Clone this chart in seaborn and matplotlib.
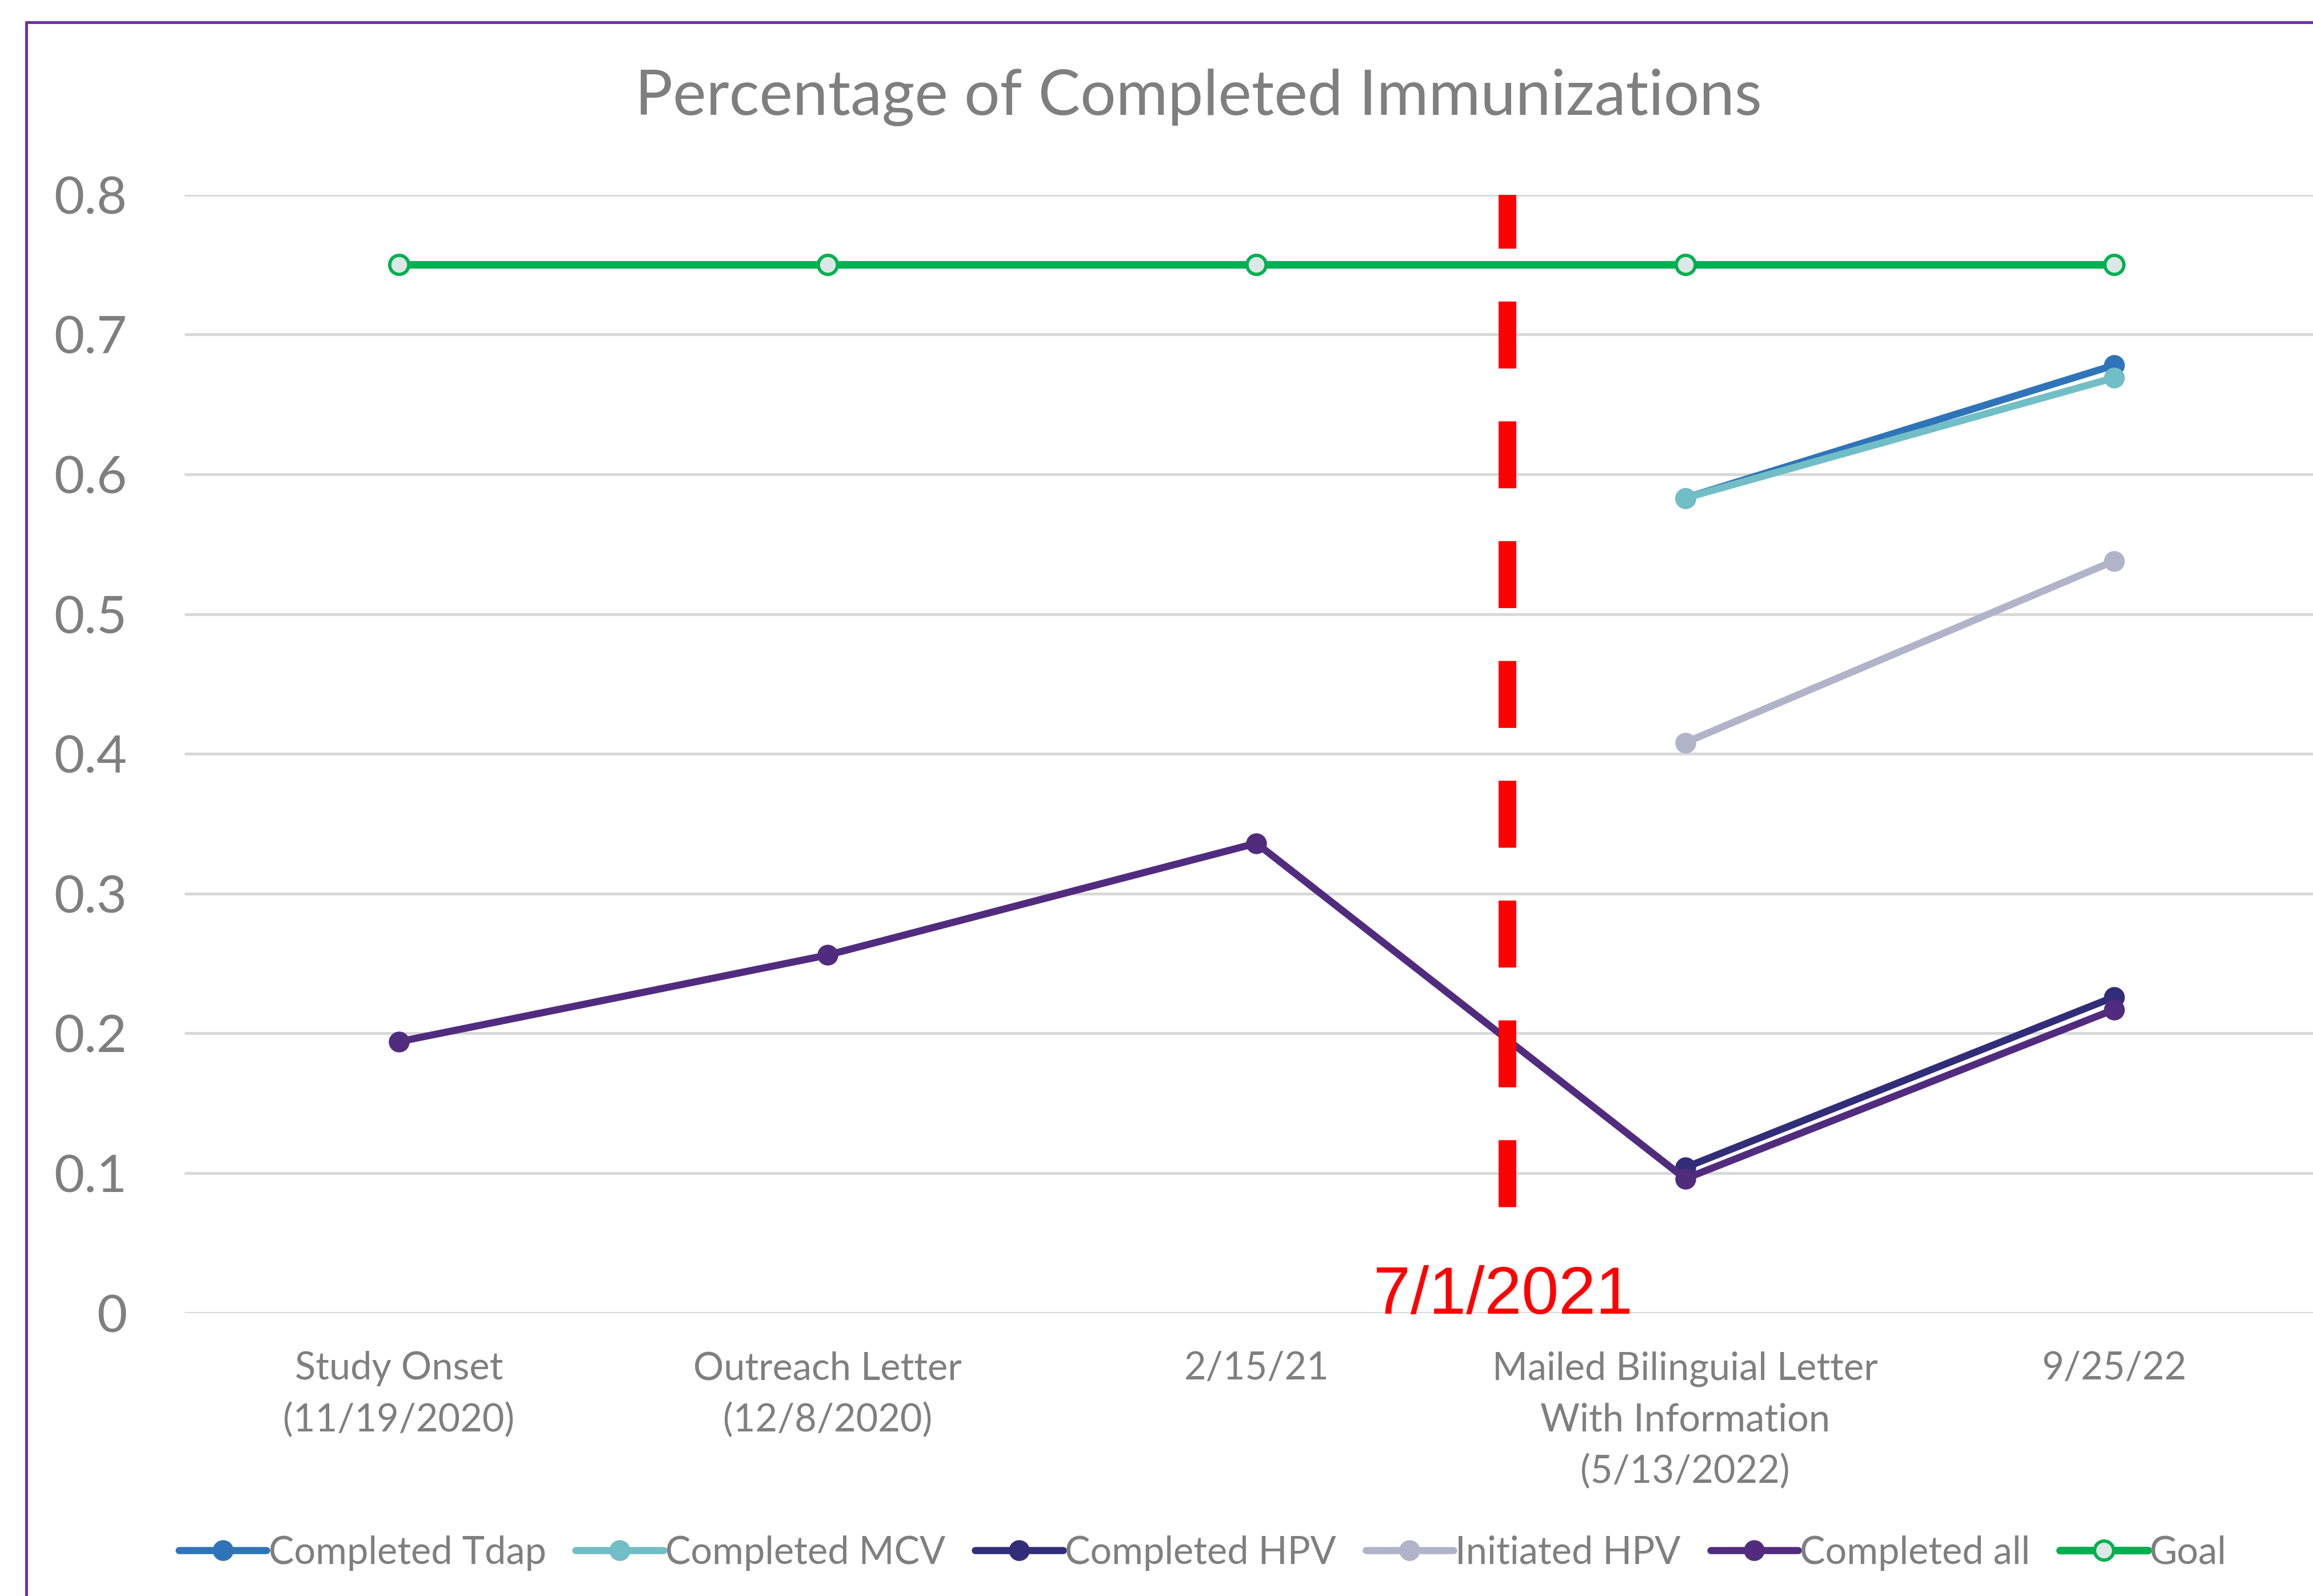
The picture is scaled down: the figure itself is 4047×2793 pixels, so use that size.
import numpy as np
import pandas as pd
import matplotlib
matplotlib.use("Agg")
import matplotlib.pyplot as plt
import seaborn as sns
from matplotlib.lines import Line2D

# Data
categories = ["Study Onset\n(11/19/2020)", "Outreach Letter\n(12/8/2020)", "2/15/21",
              "Mailed Bilinguial Letter\nWith Information\n(5/13/2022)", "9/25/22"]
completed_tdap = [np.nan, np.nan, np.nan, 0.583, 0.678]
completed_mcv = [np.nan, np.nan, np.nan, 0.583, 0.669]
completed_hpv = [np.nan, np.nan, np.nan, 0.104, 0.226]
initiated_hpv = [np.nan, np.nan, np.nan, 0.408, 0.538]
completed_all = [0.194, 0.256, 0.336, 0.096, 0.217]
goal = [0.75, 0.75, 0.75, 0.75, 0.75]
y_ticks = [0, 0.1, 0.2, 0.3, 0.4, 0.5, 0.6, 0.7, 0.8]
marker_date = "7/1/2021"
marker_pos = 2.585

series = [
    ("Completed Tdap", completed_tdap, "#2f74b8"),
    ("Completed MCV", completed_mcv, "#72bec6"),
    ("Completed HPV", completed_hpv, "#322d78"),
    ("Initiated HPV", initiated_hpv, "#b1b4c8"),
    ("Completed all", completed_all, "#512c7e"),
]

sns.set_style("white")
plt.rcParams['font.family'] = ['Lato', 'DejaVu Sans']
gray = "#7f7f7f"

fig = plt.figure(figsize=(4047 / 300, 2793 / 300), dpi=300)
ax = fig.add_axes([0.0797, 0.1774, 0.927, 0.7006])

x = np.arange(len(categories))
for name, vals, col in series:
    df = pd.DataFrame({"x": x, "y": vals}).dropna()
    sns.lineplot(data=df, x="x", y="y", ax=ax, color=col, linewidth=3.0,
                 marker="o", markersize=8, markeredgecolor=col, label=name)

sns.lineplot(x=x, y=goal, ax=ax, color="#00b050", linewidth=3.2, marker="o",
             markersize=8, markerfacecolor="#dde7e5", markeredgecolor="#00b050",
             markeredgewidth=1.4, label="Goal")

# red dashed marker line
ax.plot([marker_pos, marker_pos], [0.076, 0.805], color="#ff0000", linewidth=7.4,
        linestyle=(0, (3.8, 3.0)), solid_capstyle="butt", dash_capstyle="butt", zorder=5)
ax.text(marker_pos - 0.01, 0.012, marker_date, color="#ff0000", fontsize=28,
        family=['Liberation Sans', 'DejaVu Sans'], ha="center", va="center", zorder=6)

ax.set_xlim(-0.5, 4.5)
ax.set_ylim(0, 0.8)
ax.set_yticks(y_ticks)
ax.set_yticklabels([f"{v:g}" for v in y_ticks])
ax.set_xticks(x)
ax.set_xticklabels(categories, linespacing=1.55)
ax.grid(axis="y", color="#d9d9d9", linewidth=1.2)
ax.grid(axis="x", visible=False)
for s in ax.spines.values():
    s.set_visible(False)
ax.tick_params(axis="y", labelsize=22, colors=gray, length=0, pad=24)
ax.tick_params(axis="x", labelsize=16, colors=gray, length=0, pad=16)
ax.set_xlabel("")
ax.set_ylabel("")

fig.text(0.518, 0.939, "Percentage of Completed Immunizations", fontsize=26.5,
         color=gray, ha="center", va="center")

handles, labels = ax.get_legend_handles_labels()
ax.legend_.remove()
fig.legend(handles, labels, loc="center", bbox_to_anchor=(0.52, 0.027), ncol=6,
           frameon=False, fontsize=16, labelcolor=gray, handlelength=2.3,
           handletextpad=0.05, columnspacing=0.78)

# outer chart border (cropped on the right and bottom)
fig.add_artist(Line2D([0.0114, 0.0114], [0.0, 0.986], color="#7030a0", linewidth=1.2))
fig.add_artist(Line2D([0.0114, 1.0], [0.986, 0.986], color="#7030a0", linewidth=1.2))

fig.savefig("out.png", dpi=300, facecolor="white")
